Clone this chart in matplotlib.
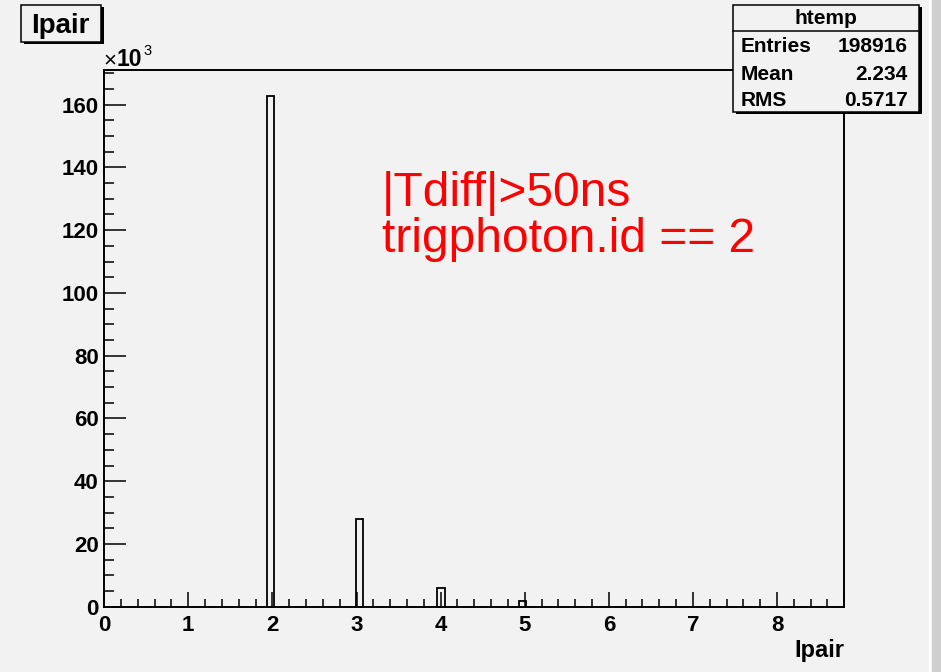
import matplotlib
matplotlib.use("Agg")
import matplotlib.pyplot as plt
from matplotlib.patches import Rectangle
from matplotlib.ticker import MultipleLocator

# histogram "htemp" of Ipair, 100 bins over 0..8.8 (only filled bins listed)
bin_width = 0.088
bin_lo = [1.936, 2.992, 3.960, 4.928]
counts = [162900, 28000, 5900, 1800]

stat_names = ["Entries", "Mean", "RMS"]
stat_values = ["198916", "2.234", "0.5717"]

x_ticks = [0, 1, 2, 3, 4, 5, 6, 7, 8]
y_ticks = [0, 20, 40, 60, 80, 100, 120, 140, 160]

W, H = 941, 672
bg = "#f2f2f2"
font = "Liberation Sans"


def fx(px):
    return px / W


def fy(py):
    return 1 - py / H


fig = plt.figure(figsize=(W / 100, H / 100), dpi=100, facecolor=bg)
ax = fig.add_axes([fx(104.2), fy(606.7), (844.3 - 104.2) / W, (606.7 - 70) / H])
ax.set_facecolor(bg)

# counts shown in units of 10^3
ax.bar(bin_lo, [c / 1000 for c in counts], width=bin_width, align="edge",
       fill=False, edgecolor="black", linewidth=1.3)

ax.set_xlim(0, 8.8)
ax.set_ylim(0, max(counts) * 1.05 / 1000)
ax.set_xticks(x_ticks)
ax.set_yticks(y_ticks)
ax.xaxis.set_minor_locator(MultipleLocator(0.2))
ax.yaxis.set_minor_locator(MultipleLocator(5))
ax.tick_params(axis="both", which="both", direction="in", width=1.1,
               top=False, right=False, colors="black")
ax.tick_params(axis="x", which="major", length=11, pad=6)
ax.tick_params(axis="x", which="minor", length=6)
ax.tick_params(axis="y", which="major", length=16, pad=4)
ax.tick_params(axis="y", which="minor", length=7.5)
for lab in ax.get_xticklabels() + ax.get_yticklabels():
    lab.set_fontfamily(font)
    lab.set_fontweight("bold")
    lab.set_fontsize(16)
for sp in ax.spines.values():
    sp.set_linewidth(1.4)

# exponent marker of the y axis
fig.text(fx(103), fy(66), "×", family=font, fontsize=16,
         ha="left", va="baseline")
fig.text(fx(116), fy(66), "10", family=font, fontweight="bold", fontsize=16.5,
         ha="left", va="baseline")
fig.text(fx(143), fy(55), "3", family=font, fontsize=10.5,
         ha="left", va="baseline")

# x axis title
fig.text(fx(844), fy(657), "Ipair", family=font, fontweight="bold", fontsize=17,
         ha="right", va="baseline")

# red annotation
fig.text(fx(382), fy(206), "|Tdiff|>50ns", family=font, fontsize=34.5,
         color="#ff0000", ha="left", va="baseline")
fig.text(fx(382), fy(252), "trigphoton.id == 2", family=font, fontsize=34.5,
         color="#ff0000", ha="left", va="baseline")


def box(x0, y0, x1, y1):
    # ROOT style pave with a small shadow on the right and bottom
    fig.patches.append(Rectangle((fx(x0 + 3), fy(y1 + 2)), (x1 - x0) / W, (y1 - y0) / H,
                                 transform=fig.transFigure, facecolor="black",
                                 edgecolor="none", zorder=2))
    fig.patches.append(Rectangle((fx(x0), fy(y1)), (x1 - x0) / W, (y1 - y0) / H,
                                 transform=fig.transFigure, facecolor=bg,
                                 edgecolor="black", linewidth=1.1, zorder=2))


# title pave
box(20.7, 5, 101, 42)
fig.text(fx(60), fy(33), "Ipair", family=font, fontweight="bold", fontsize=20,
         ha="center", va="baseline", zorder=3)

# stats pave
box(733, 5, 919, 112)
fig.lines.append(plt.Line2D([fx(733), fx(919)], [fy(31), fy(31)],
                            transform=fig.transFigure, color="black",
                            linewidth=1.1, zorder=3))
fig.text(fx(826), fy(18), "htemp", family=font, fontweight="bold", fontsize=15,
         ha="center", va="center", zorder=3)
for i, (name, val) in enumerate(zip(stat_names, stat_values)):
    yy = fy(47 + i * 27)
    fig.text(fx(741), yy, name, family=font, fontweight="bold", fontsize=15,
             ha="left", va="center", zorder=3)
    fig.text(fx(908), yy, val, family=font, fontweight="bold", fontsize=15,
             ha="right", va="center", zorder=3)

# window border on the right edge
fig.patches.append(Rectangle((fx(929), 0), 2 / W, 1, transform=fig.transFigure,
                             facecolor="white", edgecolor="none", zorder=2))
fig.patches.append(Rectangle((fx(932), 0), 9 / W, 1, transform=fig.transFigure,
                             facecolor="#cfcfcf", edgecolor="none", zorder=2))

fig.savefig("out.png", dpi=100, facecolor=bg)
